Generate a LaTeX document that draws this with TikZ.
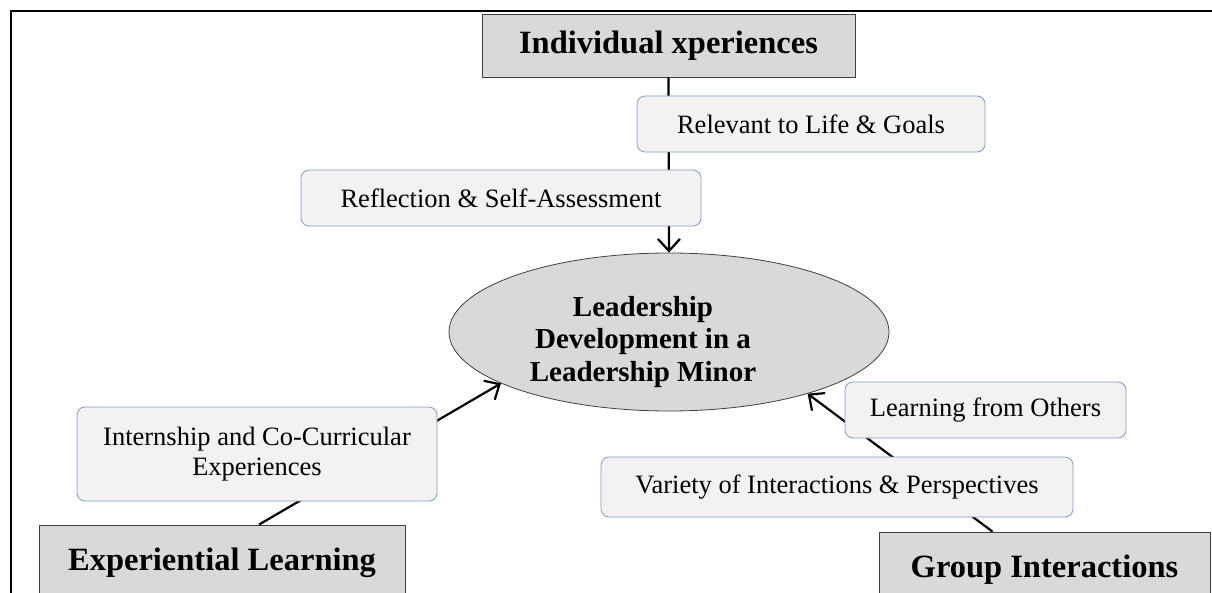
\documentclass[tikz,border=0pt]{standalone}
\usepackage{fontspec}
\setmainfont{Liberation Serif}
\usetikzlibrary{shapes.geometric,arrows.meta}
\definecolor{headfill}{RGB}{217,217,217}
\definecolor{headline}{RGB}{64,64,64}
\definecolor{tagfill}{RGB}{242,242,242}
\definecolor{tagline}{RGB}{130,155,190}

\begin{document}
\begin{tikzpicture}[x=1pt,y=-1pt,
  head/.style={draw=headline,fill=headfill,line width=0.8pt,inner sep=0pt,
    font=\fontsize{32.5}{36}\selectfont\bfseries},
  tag/.style={draw=tagline,fill=tagfill,line width=0.8pt,rounded corners=8pt,
    inner sep=0pt,align=center,font=\fontsize{26.5}{30}\selectfont},
  link/.style={line width=2.2pt,-{Straight Barb[length=12pt,width=22pt]}}]
\useasboundingbox (0,0) rectangle (1212,593);
\clip (0,0) rectangle (1212,593);

% outer frame
\draw[line width=2.5pt] (11,620) -- (11,11) -- (1230,11);

% the three sources and the centre
\node[head,minimum width=373pt,minimum height=63pt] (ind) at (668.5,45.5) {Individual xperiences};
\node[head,minimum width=366pt,minimum height=76pt] (exp) at (222,563) {Experiential Learning};
\node[head,minimum width=331pt,minimum height=76pt] (grp) at (1044.5,570) {Group Interactions};
\node[ellipse,draw=headline,fill=headfill,line width=0.8pt,
  minimum width=440pt,minimum height=158pt] (lead) at (669,332) {};
\node[align=center,font=\fontsize{29}{32.5}\selectfont\bfseries] (leadtxt) at (643,342)
  {Leadership\\Development in a\\Leadership Minor};

% arrows into the centre
\draw[link] (ind.south) -- (lead.north);
\draw[link] ([xshift=37pt]exp.north) -- (lead.197);
\draw[link] ([xshift=-52pt]grp.north) -- (lead.336);

% labels sitting on the arrows
\node[tag,minimum width=348pt,minimum height=56pt] (rel) at (811,124) {Relevant to Life \& Goals};
\node[tag,minimum width=400pt,minimum height=56pt] (refl) at (501,198) {Reflection \& Self-Assessment};
\node[tag,minimum width=360pt,minimum height=94pt] (intern) at (257,454) {Internship and Co-Curricular\\Experiences};
\node[tag,minimum width=281pt,minimum height=56pt] (learn) at (985.5,410) {Learning from Others};
\node[tag,minimum width=472pt,minimum height=60pt] (var) at (837,487) {Variety of Interactions \& Perspectives};
\end{tikzpicture}
\end{document}
